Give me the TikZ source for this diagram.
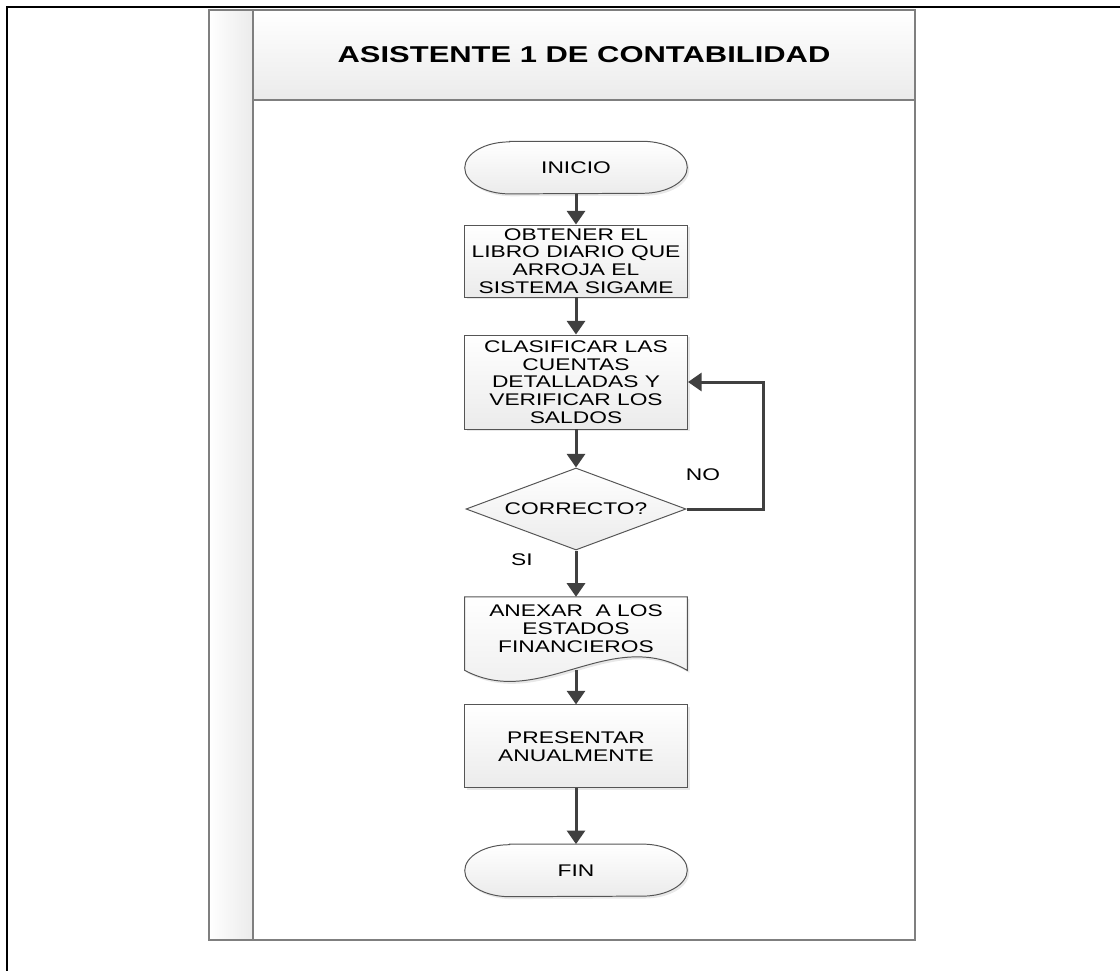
\documentclass[tikz,border=0pt]{standalone}
\usepackage{fontspec}
\setmainfont[FakeStretch=1.35]{Liberation Sans}
\usepackage{xcolor}
\usepackage{tikz}
\usetikzlibrary{calc,shapes.geometric,arrows.meta,shadows,backgrounds}
\definecolor{arrowgray}{HTML}{404040}
\definecolor{linegray}{HTML}{555555}
\definecolor{poolgray}{HTML}{7F7F7F}
\definecolor{fillgray}{HTML}{EBEBEB}
\pgfkeys{tikz/flowshape/.style={draw=linegray,line width=0.7pt,top color=white,bottom color=fillgray,drop shadow={shadow xshift=0.05cm,shadow yshift=-0.06cm,fill=black!18}}}
\pgfkeys{tikz/flowtext/.style={font=\fontsize{12}{12.6}\selectfont,align=center,text=black}}
\pgfkeys{tikz/flowbox/.style={flowtext,rectangle,flowshape,minimum width=5.575cm,inner sep=0pt}}
\pgfkeys{tikz/flowblank/.style={flowtext,rectangle,minimum width=5.55cm,inner sep=0pt}}
\pgfkeys{tikz/flowcheck/.style={flowtext,diamond,draw=linegray,line width=0.7pt,top color=white,bottom color=fillgray,aspect=2.7,minimum width=5.5cm,minimum height=2.05cm,inner sep=0pt}}
\pgfkeys{tikz/flowarrow/.style={-{Triangle[length=0.34cm,width=0.45cm]},line width=0.075cm,draw=arrowgray}}
\pgfkeys{tikz/poolline/.style={draw=poolgray,line width=0.9pt}}
\newcommand*\flowterminal[1]{
    \draw[flowshape] ($(#1.north west)+(1.12,0)$) -- ($(#1.north east)+(-1.12,0)$)
        arc[start angle=90,end angle=-90,x radius=1.12,y radius=0.65]
        -- ($(#1.south west)+(1.12,0)$)
        arc[start angle=270,end angle=90,x radius=1.12,y radius=0.65] -- cycle;
}
\newcommand*\flowdocument[1]{
    \draw[flowshape] (#1.south west) -- (#1.north west) -- (#1.north east) -- (#1.south east)
        .. controls ($(#1.south east)+(-1.925,1.125)$) and ($(#1.south west)+(1.875,-1.0)$) .. (#1.south west) -- cycle;
}

\begin{document}
\begin{tikzpicture}
    \useasboundingbox (0,0) rectangle (28,-24.275);
    \draw[line width=1.9pt] (28,-0.175) -- (0.175,-0.175) -- (0.175,-24.275);
    % swimlane
    \fill[left color=white,right color=fillgray] (5.225,-0.25) rectangle (6.325,-23.5);
    \fill[top color=white,bottom color=fillgray] (6.325,-0.25) rectangle (22.875,-2.5);
    \draw[poolline] (5.225,-0.25) rectangle (22.875,-23.5);
    \draw[poolline] (6.325,-0.25) -- (6.325,-23.5);
    \draw[poolline] (6.325,-2.5) -- (22.875,-2.5);
    \node[font=\bfseries\fontsize{16.3}{19}\selectfont] (title) at (14.6,-1.375) {ASISTENTE 1 DE CONTABILIDAD};

    \node[flowblank,minimum height=1.3cm] (start) at (14.4,-4.19) {INICIO};
    \node[flowbox,minimum height=1.8cm] (obtain) at (14.4,-6.525) {OBTENER EL\\LIBRO DIARIO QUE\\ARROJA EL\\SISTEMA SIGAME};
    \node[flowbox,minimum height=2.35cm] (classify) at (14.4,-9.55) {CLASIFICAR LAS\\CUENTAS\\DETALLADAS Y\\VERIFICAR LOS\\SALDOS};
    \node[flowcheck] (check) at (14.4,-12.725) {CORRECTO?};
    \node[flowblank,minimum height=1.825cm,text depth=0.25cm] (annex) at (14.4,-15.84) {ANEXAR\ \ A LOS\\ESTADOS\\FINANCIEROS};
    \node[flowbox,minimum height=2.075cm] (present) at (14.4,-18.66) {PRESENTAR\\ANUALMENTE};
    \node[flowblank,minimum height=1.3cm] (stop) at (14.4,-21.76) {FIN};
    \begin{scope}[on background layer]
        \flowterminal{start}
        \flowterminal{stop}
        \flowdocument{annex}
    \end{scope}

    \draw[flowarrow] (start) -- (obtain);
    \draw[flowarrow] (obtain) -- (classify);
    \draw[flowarrow] (classify) -- (check);
    \draw[flowarrow] (check) -- (annex);
    \draw[flowarrow] (annex) -- (present);
    \draw[flowarrow] (present) -- (stop);
    \draw[flowarrow] (check.east) -- ++(1.925,0) |- (classify.east);
    \node[flowtext] (nolabel) at (17.575,-11.875) {NO};
    \node[flowtext] (silabel) at (13.05,-14.0) {SI};
\end{tikzpicture}
\end{document}
